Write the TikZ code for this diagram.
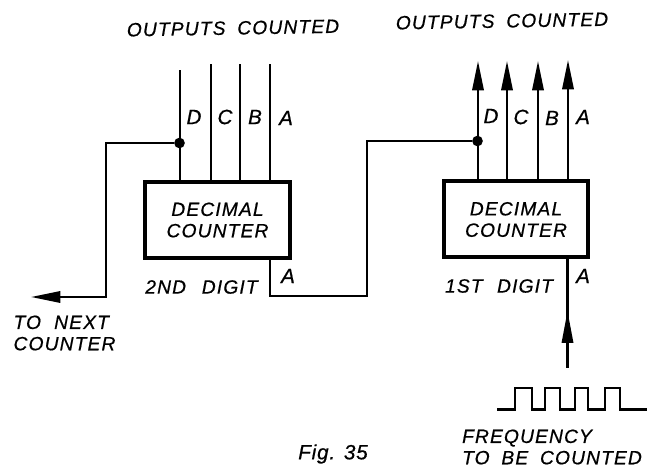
\documentclass[tikz,border=0pt]{standalone}
\usepackage{fontspec}
\setmainfont{Liberation Sans}
\usetikzlibrary{arrows.meta}
\tikzset{
  wire/.style={line width=1.7pt,line join=miter},
  counterbox/.style={draw,line width=3pt,minimum width=108.5pt,minimum height=57pt,inner sep=0pt,align=center,font=\lbl},
  lab/.style={inner sep=0pt,font=\lbl,align=left},
  pin/.style={inner sep=0pt,font=\pinl},
  junction/.style={circle,fill=black,inner sep=0pt,minimum size=8pt},
  tip/.style={-{Triangle[length=22pt,width=8.5pt]}},
  tipin/.style={-{Triangle[length=24pt,width=8.5pt]}}
}
\newcommand{\lbl}{\fontsize{14.4pt}{16pt}\selectfont\itshape\addfontfeatures{LetterSpace=6,FakeBold=0.6}}
\newcommand{\pinl}{\fontsize{15.5pt}{17pt}\selectfont\itshape\addfontfeatures{FakeBold=0.6}}
\begin{document}
\begin{tikzpicture}[x=0.75pt,y=-0.75pt]
\useasboundingbox (0,0) rectangle (650,470);
% boxes
\node[counterbox] (box2) at (217.5,220) {DECIMAL\\COUNTER};
\node[counterbox] (box1) at (516,219.5) {DECIMAL\\COUNTER};
% titles
\node[lab,rotate=1] (t2) at (233,28) {OUTPUTS\hspace{4pt} COUNTED};
\node[lab,rotate=1] (t1) at (502,21) {OUTPUTS\hspace{4pt} COUNTED};
% top ends
\coordinate (d2) at (180,70);
\coordinate (c2) at (211,64);
\coordinate (b2) at (240,64);
\coordinate (a2) at (270,64);
\coordinate (d1) at (478,61);
\coordinate (c1) at (507,61);
\coordinate (b1) at (538,61);
\coordinate (a1) at (568,60);
% junctions
\node[junction] (j2) at (179.5,143) {};
\node[junction] (j1) at (477.5,141) {};
% left box outputs
\draw[wire] (box2.north -| d2) -- (d2);
\draw[wire] (box2.north -| c2) -- (c2);
\draw[wire] (box2.north -| b2) -- (b2);
\draw[wire] (box2.north -| a2) -- (a2);
% right box outputs
\draw[wire,tip] (box1.north -| d1) -- (d1);
\draw[wire,tip] (box1.north -| c1) -- (c1);
\draw[wire,tip] (box1.north -| b1) -- (b1);
\draw[wire,tip] (box1.north -| a1) -- (a1);
% next counter
\coordinate (n1) at (106,143);
\coordinate (n2) at (106,297);
\coordinate (n3) at (31,297);
\draw[wire,tip] (j2) -- (n1) -- (n2) -- (n3);
% carry link
\coordinate (l1) at (270,296);
\coordinate (l2) at (367,296);
\coordinate (l3) at (367,141);
\draw[wire] (box2.south -| l1) -- (l1) -- (l2) -- (l3) -- (j1);
% input
\coordinate (i1) at (567.5,368);
\coordinate (i2) at (567.5,311);
\draw[wire] (i1) -- (box1.south -| i1);
\draw[wire,tipin] (i1) -- (i2);
% waveform
\draw[wire] (497,409.5) -- (515,409.5) -- (515,388) -- (532,388) -- (532,409.5)
 -- (545,409.5) -- (545,388) -- (560,388) -- (560,409.5)
 -- (575,409.5) -- (575,388) -- (588,388) -- (588,409.5)
 -- (605,409.5) -- (605,388) -- (620,388) -- (620,409.5) -- (647,409.5);
% pin letters
\node[pin] (pd2) at (194,117) {D};
\node[pin] (pc2) at (225,117) {C};
\node[pin] (pb2) at (255,117) {B};
\node[pin] (pa2) at (286,118) {A};
\node[pin] (pd1) at (491,116) {D};
\node[pin] (pc1) at (521,117) {C};
\node[pin] (pb1) at (552,118) {B};
\node[pin] (pa1) at (583,117) {A};
\node[pin] (pa3) at (288,276) {A};
\node[pin] (pa4) at (583,276) {A};
% labels
\node[lab] (d2l) at (201.5,287) {2ND\hspace{7pt} DIGIT};
\node[lab] (d1l) at (499,286) {1ST\hspace{6pt} DIGIT};
\node[lab] (nx) at (64.5,333) {TO\hspace{5pt} NEXT\\COUNTER};
\node[lab] (fr) at (552,447) {FREQUENCY\\TO\hspace{4pt} BE\hspace{4pt} COUNTED};
\node[inner sep=0pt,font=\fontsize{15.5pt}{17pt}\selectfont\itshape\addfontfeatures{LetterSpace=4,FakeBold=0.6}] (fg) at (333,454) {Fig. 35};
\end{tikzpicture}
\end{document}
